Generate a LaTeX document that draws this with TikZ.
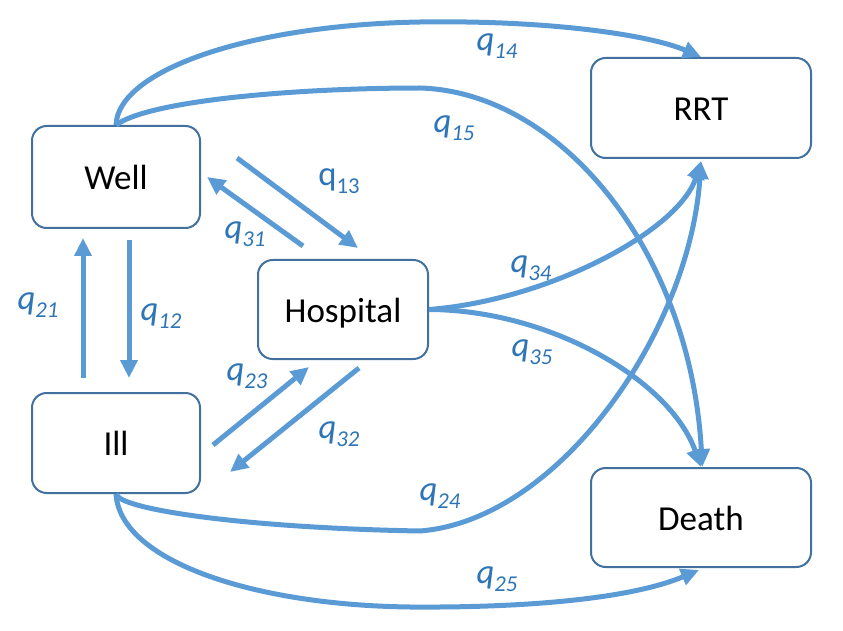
\documentclass[tikz,border=0pt]{standalone}
\usepackage{fontspec}
\setmainfont{Carlito}
\usetikzlibrary{arrows.meta}
\definecolor{arr}{HTML}{5B9BD5}
\definecolor{bord}{HTML}{41719C}
\definecolor{lab}{HTML}{2E75B6}
\newcommand{\qsub}[1]{q\raisebox{-6pt}{\fontsize{17}{20}\selectfont #1}}
\tikzset{
  statebox/.style={draw=bord, line width=1.5pt, rounded corners=11pt, fill=white,
    inner sep=0pt, text height=19.4pt, text depth=0pt,
    font=\fontsize{26.3}{30}\selectfont, text=black},
  flow/.style={draw=arr, line width=3.75pt, -{Triangle[length=13.5pt,width=12.5pt]}},
  qlab/.style={text=lab, font=\fontsize{26}{30}\selectfont\itshape, inner sep=0pt},
  qlabup/.style={text=lab, font=\fontsize{26}{30}\selectfont, inner sep=0pt}
}
\begin{document}
\begin{tikzpicture}[x=0.75pt,y=-0.75pt]
\useasboundingbox (0,0) rectangle (843,631);
% boxes
\node[statebox, minimum width=126pt, minimum height=76.5pt] (well) at (116,177) {Well};
\node[statebox, minimum width=126pt, minimum height=75pt] (ill) at (116,443) {Ill};
\node[statebox, minimum width=127.5pt, minimum height=74.25pt] (hosp) at (343,309.5) {Hospital};
\node[statebox, minimum width=165pt, minimum height=75pt] (rrt) at (701,108) {RRT};
\node[statebox, minimum width=165pt, minimum height=74.25pt] (death) at (701,517.5) {Death};
% free ends of straight arrows
\coordinate (a13s) at (237,158); \coordinate (a13e) at (358,248);
\coordinate (a31s) at (303,246); \coordinate (a31e) at (207,177);
\coordinate (a12s) at (129,240); \coordinate (a12e) at (129,378);
\coordinate (a21s) at (83,378);  \coordinate (a21e) at (83,238);
\coordinate (a23s) at (213,445); \coordinate (a23e) at (309,367);
\coordinate (a32s) at (359,368); \coordinate (a32e) at (230,472);
\draw[flow] (a13s) -- (a13e);
\draw[flow] (a31s) -- (a31e);
\draw[flow] (a12s) -- (a12e);
\draw[flow] (a21s) -- (a21e);
\draw[flow] (a23s) -- (a23e);
\draw[flow] (a32s) -- (a32e);
% curved arrows
\draw[flow] (well.north) .. controls (118,70) and (250,25) .. (420,22)
  .. controls (550,20) and (650,35) .. (rrt.north);
\draw[flow] (well.north) .. controls (150,100) and (300,88) .. (420,88)
  .. controls (560,92) and (690,250) .. ([xshift=1pt]death.north);
\draw[flow] (hosp.east) .. controls (550,300) and (680,230) .. ([yshift=-1.5pt]rrt.south);
\draw[flow] (hosp.east) .. controls (550,310) and (670,380) .. (death.north);
\draw[flow] (ill.south) .. controls (120,510) and (250,528) .. (420,531)
  .. controls (560,520) and (690,330) .. ([yshift=-1.5pt]rrt.south);
\draw[flow] (ill.south) .. controls (120,560) and (250,605) .. (410,607)
  .. controls (550,608) and (640,595) .. ([xshift=-1.5pt,yshift=-1.5pt]death.south);
% labels
\node[qlabup] (l13) at (339,181) {\qsub{13}};
\node[qlab] (l31) at (245,234) {\qsub{31}};
\node[qlab] (l21) at (38,305) {\qsub{21}};
\node[qlab] (l12) at (161,316) {\qsub{12}};
\node[qlab] (l14) at (497,46) {\qsub{14}};
\node[qlab] (l15) at (454,128) {\qsub{15}};
\node[qlab] (l34) at (531,268) {\qsub{34}};
\node[qlab] (l35) at (532,352) {\qsub{35}};
\node[qlab] (l23) at (247,376) {\qsub{23}};
\node[qlab] (l32) at (339,434) {\qsub{32}};
\node[qlab] (l24) at (440,496) {\qsub{24}};
\node[qlab] (l25) at (497,579) {\qsub{25}};
\end{tikzpicture}
\end{document}
